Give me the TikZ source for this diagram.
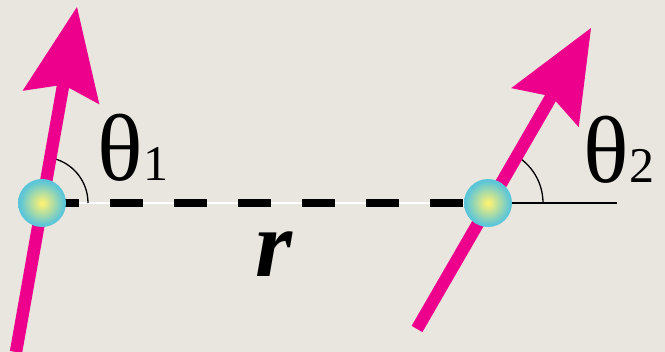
\documentclass[tikz,border=0pt]{standalone}
\usepackage{fontspec}
\setmainfont{Liberation Serif}
\usetikzlibrary{arrows.meta}
\definecolor{paper}{RGB}{233,230,224}
\definecolor{dipolepink}{RGB}{236,0,140}
\definecolor{ballin}{RGB}{245,240,120}
\definecolor{ballout}{RGB}{92,198,216}
\pgfdeclareradialshading{ballshade}{\pgfpoint{0bp}{0bp}}{color(0bp)=(ballin); color(2bp)=(ballin); color(23bp)=(ballout); color(25bp)=(ballout); color(50bp)=(ballout)}
\tikzset{>={Stealth[length=92pt,width=78pt,inset=13pt,line width=0pt]}}
\tikzset{dipole/.style={->, draw=dipolepink, line width=12.5pt},
  ball/.style={circle, minimum size=48pt, inner sep=0pt, shade, shading=ballshade},
  anglearc/.style={black, line width=1.3pt},
  biglabel/.style={inner sep=0pt, anchor=base west, font=\fontsize{95}{95}\selectfont}}

\begin{document}
\begin{tikzpicture}[x=1pt,y=1pt]
          \fill[paper] (0,0) rectangle (665,352);
          \useasboundingbox (0,0) rectangle (665,352);
          % centres, tails and tips of the two dipoles
          \coordinate (c1) at (42,149);
          \coordinate (c2) at (488,149);
          \coordinate (tail1) at (16,0);
          \coordinate (tip1) at (77,345);
          \coordinate (tail2) at (417,23);
          \coordinate (tip2) at (591,324);
          \coordinate (ref) at (617,149);
          % separation
          \draw[white, line width=1.5pt] (c1) -- (c2);
          \draw[black, line width=8pt, dash pattern=on 33pt off 31pt, dash phase=60pt] (c1) -- (c2);
          \draw[anglearc] (c2) -- (ref);
          \draw[anglearc] (c1) ++(46,0) arc[start angle=0, end angle=80, radius=46];
          \draw[anglearc] (c2) ++(55,0) arc[start angle=0, end angle=62, radius=55];
          \draw[dipole] (tail1) -- (tip1);
          \draw[dipole] (tail2) -- (tip2);
          \node[ball] (p1) at (c1) {};
          \node[ball] (p2) at (c2) {};
          \node[biglabel] (th1) at (97,171) {θ\kern1pt{\fontsize{50}{50}\selectfont 1}};
          \node[biglabel] (th2) at (583,169) {θ\kern1pt{\fontsize{50}{50}\selectfont 2}};
          \node[inner sep=0pt, anchor=base, font=\fontsize{95}{95}\selectfont\bfseries\itshape] (r) at (274,75) {r};
        \end{tikzpicture}
\end{document}
